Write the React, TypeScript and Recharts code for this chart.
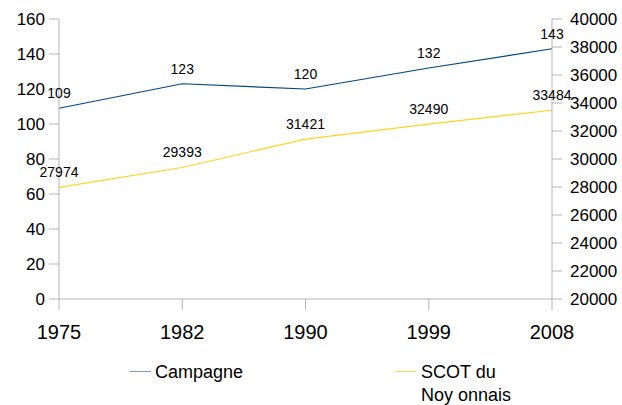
import { LineChart, Line, XAxis, YAxis, LabelList } from "recharts"

const years = ["1975", "1982", "1990", "1999", "2008"]
const campagne = [109, 123, 120, 132, 143]
const scot = [27974, 29393, 31421, 32490, 33484]
const leftTicks = [0, 20, 40, 60, 80, 100, 120, 140, 160]
const rightTicks = [20000, 22000, 24000, 26000, 28000, 30000, 32000, 34000, 36000, 38000, 40000]

const data = years.map((year, i) => ({ year, campagne: campagne[i], scot: scot[i] }))

const BLUE = "#004586"
const YELLOW = "#ffd320"
const AXIS = "#b3b3b3"
const FONT = "'Liberation Sans', Arial, sans-serif"

export default function App() {
  return (
    <div style={{ position: "absolute", left: 0, top: 0, width: 622, height: 405, background: "#fff", fontFamily: FONT }}>
      <LineChart width={622} height={405} data={data} margin={{ top: 19, right: 0, left: 0, bottom: 66 }}>
        <XAxis
          dataKey="year"
          height={40}
          stroke={AXIS}
          tickSize={11}
          tickMargin={15}
          tick={{ fill: "#000", fontSize: 20, fontFamily: FONT }}
        />
        <YAxis
          yAxisId="left"
          domain={[0, 160]}
          ticks={leftTicks}
          width={59}
          stroke={AXIS}
          tickSize={10}
          tickMargin={4}
          tick={{ fill: "#000", fontSize: 17, fontFamily: FONT }}
        />
        <YAxis
          yAxisId="right"
          orientation="right"
          domain={[20000, 40000]}
          ticks={rightTicks}
          width={70}
          stroke={AXIS}
          tickSize={10}
          tickMargin={8}
          tick={{ fill: "#000", fontSize: 17, fontFamily: FONT }}
        />
        <Line yAxisId="left" dataKey="campagne" stroke={BLUE} strokeWidth={1.2} dot={false} isAnimationActive={false}>
          <LabelList dataKey="campagne" position="top" offset={10} fill="#000" fontSize={14} fontFamily={FONT} />
        </Line>
        <Line yAxisId="right" dataKey="scot" stroke={YELLOW} strokeWidth={1.2} dot={false} isAnimationActive={false}>
          <LabelList dataKey="scot" position="top" offset={10} fill="#000" fontSize={14} fontFamily={FONT} />
        </Line>
      </LineChart>
      {/* legend */}
      <div style={{ position: "absolute", left: 130, top: 361, display: "flex", alignItems: "flex-start", fontSize: 18, lineHeight: "23px" }}>
        <div style={{ width: 21, height: 0, borderTop: `1.5px solid #7aa3c8`, marginTop: 10, marginRight: 4 }} />
        <span>Campagne</span>
      </div>
      <div style={{ position: "absolute", left: 395, top: 361, display: "flex", alignItems: "flex-start", fontSize: 18, lineHeight: "23px" }}>
        <div style={{ width: 21, height: 0, borderTop: `1.5px solid #ffdc55`, marginTop: 10, marginRight: 5 }} />
        <span>SCOT du<br />Noy onnais</span>
      </div>
    </div>
  )
}
